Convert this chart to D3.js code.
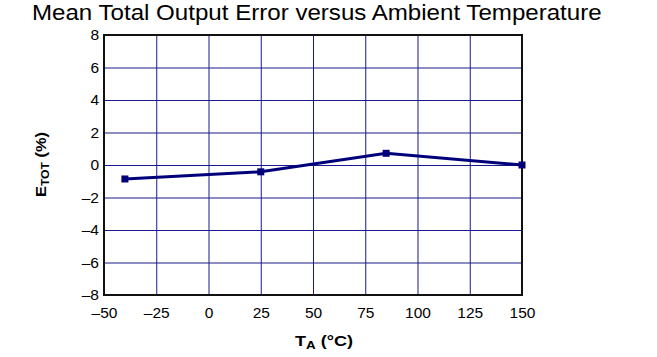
<!DOCTYPE html>
<html><head><meta charset="utf-8">
<script src="https://cdn.jsdelivr.net/npm/d3@7"></script>
<style>body{margin:0;background:#fff}svg{display:block}text{font-family:"Liberation Sans",Arial,sans-serif}</style>
</head><body><svg id="c" width="657" height="357"></svg>
<script>
const temps = [-40, 25, 85, 150];
const errors = [-0.86, -0.42, 0.72, 0.0];
const xTicks = [-50, -25, 0, 25, 50, 75, 100, 125, 150];
const yTicks = [-8, -6, -4, -2, 0, 2, 4, 6, 8];
const title = "Mean Total Output Error versus Ambient Temperature";

const svg = d3.select("#c");
const m = {l:104, r:522, t:35, b:295};
const x = d3.scaleLinear().domain([-50,150]).range([m.l, m.r]);
const y = d3.scaleLinear().domain([-8,8]).range([m.b, m.t]);
const fmt = v => v < 0 ? "\u2013" + Math.abs(v) : String(v);
const grid = "#1a1a8c";

function fitWidth(sel, target) {
  const w = sel.node().getBBox().width;
  return target / w;
}

const tt = svg.append("text").attr("font-size", 21.5).attr("fill", "#000").text(title);
tt.attr("transform", `translate(32,20) scale(${fitWidth(tt, 570)},1)`);

const gx = svg.append("g").attr("transform", `translate(0,${m.b})`)
  .call(d3.axisBottom(x).tickValues(xTicks).tickSize(-(m.b-m.t)).tickFormat(fmt));
gx.select(".domain").remove();
gx.selectAll("line").attr("stroke", grid).attr("stroke-width", 1);
gx.selectAll("text").attr("font-size", 15.5).attr("fill", "#000").attr("dy", "0.71em").attr("y", 12);

const gy = svg.append("g").attr("transform", `translate(${m.l},0)`)
  .call(d3.axisLeft(y).tickValues(yTicks).tickSize(-(m.r-m.l)).tickFormat(fmt));
gy.select(".domain").remove();
gy.selectAll("line").attr("stroke", grid).attr("stroke-width", 1);
gy.selectAll("text").attr("font-size", 15.5).attr("fill", "#000").attr("x", -5);

svg.append("rect").attr("x", m.l).attr("y", m.t).attr("width", m.r-m.l).attr("height", m.b-m.t)
  .attr("fill", "none").attr("stroke", "#111").attr("stroke-width", 2);

const pts = temps.map((t,i)=>[t, errors[i]]);
svg.append("path").datum(pts).attr("fill","none").attr("stroke","#00007a").attr("stroke-width",3)
  .attr("d", d3.line().x(d=>x(d[0])).y(d=>y(d[1])));
svg.selectAll(".mk").data(pts).enter().append("rect")
  .attr("x", d=>x(d[0])-3.5).attr("y", d=>y(d[1])-3.5).attr("width",7).attr("height",7).attr("fill","#00007a");

const xl = svg.append("text").attr("font-size", 15.5).attr("font-weight","bold").attr("fill","#000");
xl.append("tspan").text("T");
xl.append("tspan").attr("font-size", 11.5).attr("dy", 3).text("A");
xl.append("tspan").attr("dy", -3).text(" (°C)");
xl.attr("transform", `translate(295,346) scale(${fitWidth(xl, 58)},1)`);

const yl = svg.append("text").attr("font-size", 15.5).attr("font-weight","bold").attr("fill","#000");
yl.append("tspan").text("E");
yl.append("tspan").attr("font-size", 11.5).attr("dy", 3).text("TOT");
yl.append("tspan").attr("dy", -3).text(" (%)");
yl.attr("transform", `translate(46,197) rotate(-90) scale(${fitWidth(yl, 65)},1)`);
</script></body></html>
